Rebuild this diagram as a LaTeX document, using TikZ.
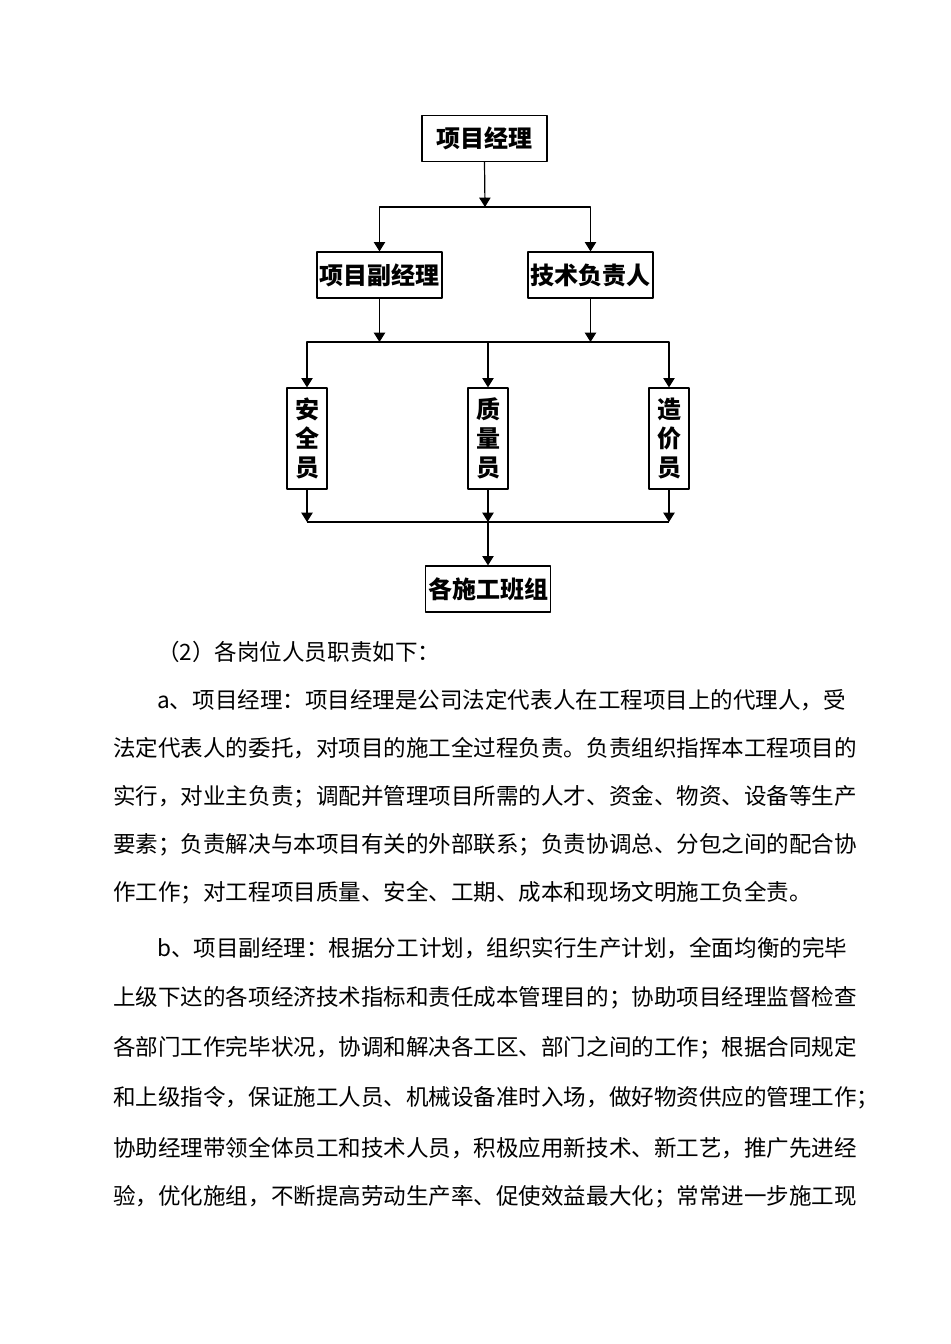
\documentclass[tikz,border=0pt]{standalone}
\usepackage{fontspec}
\setmainfont{Noto Sans CJK SC}
\usetikzlibrary{arrows.meta,positioning}
\tikzset{
	khung/.style={draw,line width=0.9pt,inner sep=0pt,minimum width=125*0.75pt,minimum height=46*0.75pt,
		font=\fontsize{18}{22}\selectfont\bfseries},
	khungdung/.style={khung,align=center,minimum width=40*0.75pt,minimum height=101*0.75pt,
		font=\fontsize{18}{21.8}\selectfont\bfseries},
	muiten/.style={line width=0.9pt,-{Triangle[width=8.5pt,length=7pt]}},
	dong/.style={anchor=west,inner sep=0pt,font=\fontsize{16.9}{20}\selectfont}
}
\begin{document}
\begin{tikzpicture}[x=0.75pt,y=-0.75pt,line join=round]
	\useasboundingbox (0,0) rectangle (950,1344);
	%==Các khung
	\node[khung] (pm) at (484.5,138.5) {项目经理};
	\node[khung] (fpm) at (379.5,275) {项目副经理};
	\node[khung] (js) at (590.5,275) {技术负责人};
	\node[khungdung] (aq) at (307,438.5) {安\\全\\员};
	\node[khungdung] (zl) at (488,438.5) {质\\量\\员};
	\node[khungdung] (zj) at (669,438.5) {造\\价\\员};
	\node[khung] (bz) at (488,589) {各施工班组};
	%==Đường nối
	\coordinate (b1) at (485,207);
	\draw[muiten] (pm.south) -- (b1);
	\draw[muiten] (b1) -| (fpm.north);
	\draw[muiten] (b1) -| (js.north);
	\coordinate (b2) at (488,342);
	\draw[muiten] (fpm.south) -- (fpm.south|-b2);
	\draw[muiten] (js.south) -- (js.south|-b2);
	\draw[muiten] (b2) -- (zl.north);
	\draw[muiten] (b2) -| (aq.north);
	\draw[muiten] (b2) -| (zj.north);
	\coordinate (b3) at (488,522);
	\draw[muiten] (aq.south) -- (aq.south|-b3);
	\draw[muiten] (zl.south) -- (b3);
	\draw[muiten] (zj.south) -- (zj.south|-b3);
	\draw[line width=0.9pt] (aq.south|-b3) -- (zj.south|-b3);
	\draw[muiten] (b3) -- (bz.north);
	%==Phần chữ
	\foreach \i/\y/\x/\t in {
		1/652/157/{（2）各岗位人员职责如下：},
		2/700/157/{a、项目经理：项目经理是公司法定代表人在工程项目上的代理人，受},
		3/748/113/{法定代表人的委托，对项目的施工全过程负责。负责组织指挥本工程项目的},
		4/797/113/{实行，对业主负责；调配并管理项目所需的人才、资金、物资、设备等生产},
		5/845/113/{要素；负责解决与本项目有关的外部联系；负责协调总、分包之间的配合协},
		6/893/113/{作工作；对工程项目质量、安全、工期、成本和现场文明施工负全责。},
		7/948/157/{b、项目副经理：根据分工计划，组织实行生产计划，全面均衡的完毕},
		8/998/113/{上级下达的各项经济技术指标和责任成本管理目的；协助项目经理监督检查},
		9/1048/113/{各部门工作完毕状况，协调和解决各工区、部门之间的工作；根据合同规定},
		10/1098/113/{和上级指令，保证施工人员、机械设备准时入场，做好物资供应的管理工作；},
		11/1148/113/{协助经理带领全体员工和技术人员，积极应用新技术、新工艺，推广先进经},
		12/1197/113/{验，优化施组，不断提高劳动生产率、促使效益最大化；常常进一步施工现}}
		\node[dong] (l\i) at (\x,\y) {\t};
\end{tikzpicture}
\end{document}
